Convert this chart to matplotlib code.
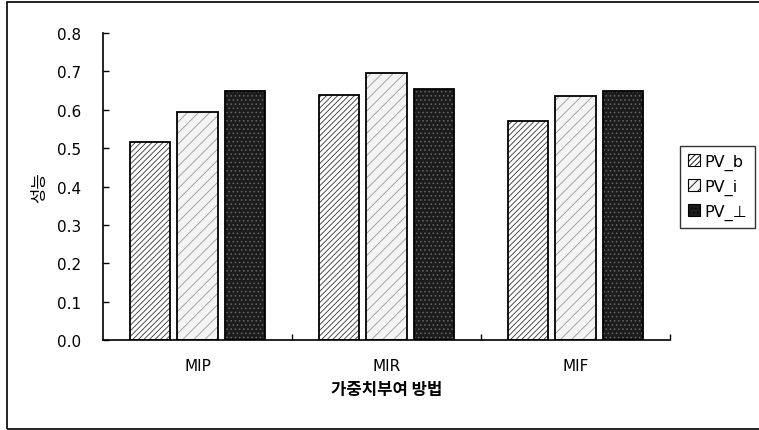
import numpy as np
import matplotlib.pyplot as plt
import matplotlib.patches as mpatches
from matplotlib.patches import Rectangle

plt.rcParams['font.family'] = ['DejaVu Sans', 'Noto Sans CJK KR']
plt.rcParams['hatch.linewidth'] = 0.6

categories = ["MIP", "MIR", "MIF"]
series_names = ["PV_b", "PV_i", "PV_⊥"]
pv_b = [0.517, 0.638, 0.570]
pv_i = [0.595, 0.695, 0.637]
pv_perp = [0.650, 0.655, 0.650]
y_ticks = [0.0, 0.1, 0.2, 0.3, 0.4, 0.5, 0.6, 0.7, 0.8]

# face, hatch, hatch colour
styles = [
    ("white", "//////", "#333333"),
    ("#f4f4f4", "///", "#999999"),
    ("#1c1c1c", "....", "#666666"),
]

fig = plt.figure(figsize=(7.59, 4.31), dpi=100)
ax = fig.add_axes([0.1357, 0.2088, 0.747, 0.712])

x = np.arange(len(categories))
width = 0.215
offs = [-0.251, 0.0, 0.251]
for vals, off, (fc, hatch, hc) in zip([pv_b, pv_i, pv_perp], offs, styles):
    ax.bar(x + off, vals, width, color=fc, hatch=hatch, edgecolor=hc, linewidth=0)
    ax.bar(x + off, vals, width, fill=False, edgecolor="black", linewidth=1.3)

ax.set_xlim(-0.5, 2.5)
ax.set_ylim(0, 0.8)
ax.set_yticks(y_ticks)
ax.set_yticklabels([f"{v:.1f}" for v in y_ticks], fontsize=11)
ax.set_xticks([0.5, 1.5, 2.5])
ax.set_xticklabels([])
ax.set_xticks(x, minor=True)
ax.set_xticklabels(categories, minor=True, fontsize=11)
ax.tick_params(axis="x", which="minor", length=0, pad=13)
ax.tick_params(axis="both", which="major", direction="in", length=4, width=1)
ax.tick_params(axis="y", pad=16)
for s in ["top", "right"]:
    ax.spines[s].set_visible(False)
for s in ["left", "bottom"]:
    ax.spines[s].set_linewidth(1.2)

ax.set_ylabel("성능", family=["Noto Sans CJK KR"], fontsize=12, labelpad=6)
ax.set_xlabel("가중치부여 방법", family=["Noto Sans CJK KR"], fontsize=12,
              fontweight="bold", labelpad=5)

handles = [mpatches.Patch(facecolor=fc, hatch=h, edgecolor="black", linewidth=0.8)
           for fc, h, hc in styles]
leg = fig.legend(handles, series_names, loc="upper left",
                 bbox_to_anchor=(0.896, 0.66), fontsize=11.5, frameon=True,
                 fancybox=False, edgecolor="black", handlelength=0.75,
                 handleheight=0.75, handletextpad=0.25, borderpad=0.5,
                 labelspacing=0.55, borderaxespad=0)
leg.get_frame().set_linewidth(1.0)

# outer border
fig.patches.append(Rectangle((0.009, 0.003), 1.2, 0.99, transform=fig.transFigure,
                             fill=False, edgecolor="black", linewidth=1.2))

fig.savefig("out.png", dpi=100)
